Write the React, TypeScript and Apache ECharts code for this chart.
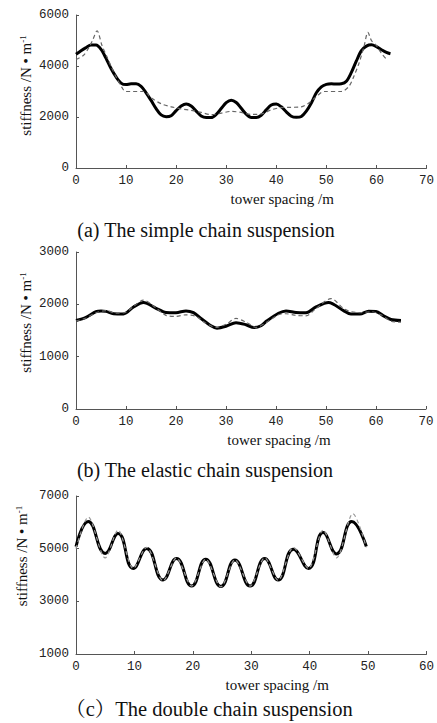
import React, { useEffect, useRef } from "react";
import * as echarts from "echarts";

// (a) simple chain suspension
const aSolidX = [0, 1, 2, 3, 4, 5, 6, 7, 8, 9, 10, 11, 12, 13, 14, 15, 16, 17, 18, 19, 20, 21, 22, 23, 24, 25, 26, 27, 28, 29, 30, 31, 32, 33, 34, 35, 36, 37, 38, 39, 40, 41, 42, 43, 44, 45, 46, 47, 48, 49, 50, 51, 52, 53, 54, 55, 56, 57, 58, 59, 60, 61, 62, 62.8];
const aSolidY = [4460, 4600, 4720, 4820, 4820, 4650, 4300, 3900, 3570, 3330, 3270, 3300, 3300, 3200, 2950, 2650, 2330, 2080, 2010, 2050, 2250, 2430, 2510, 2430, 2230, 2040, 1980, 1980, 2100, 2330, 2560, 2660, 2570, 2340, 2110, 1980, 1980, 2070, 2280, 2470, 2510, 2400, 2200, 2030, 1990, 2020, 2230, 2550, 2950, 3180, 3280, 3300, 3290, 3300, 3400, 3750, 4200, 4600, 4780, 4830, 4760, 4640, 4530, 4480];
const aDashX = [0, 1.5, 2.5, 3.3, 4.2, 5.2, 6.2, 7.2, 8.2, 9.2, 9.9, 13.6, 15, 17, 19, 21, 23, 25, 27, 29, 31, 33, 35, 37, 39, 41, 43, 45, 46.5, 48, 49.5, 53, 54.5, 55.5, 56.5, 57.5, 58.3, 59, 60, 61, 62.2];
const aDashY = [4260, 4420, 4700, 5000, 5380, 4800, 4350, 3900, 3500, 3150, 3000, 3000, 2750, 2520, 2400, 2320, 2260, 2180, 2090, 2150, 2220, 2180, 2100, 2120, 2280, 2370, 2380, 2400, 2550, 2800, 3000, 3000, 3200, 3600, 4100, 4750, 5320, 5000, 4800, 4500, 4220];

// (b) elastic chain suspension
const bSolidX = [0, 2, 4, 5, 6, 7.5, 9.5, 11.5, 13.5, 16, 18, 20, 22, 23.5, 25, 27, 28.2, 30, 32, 34, 35.6, 37, 38.2, 40.5, 42, 44, 46, 48, 50.5, 53.5, 55, 56.8, 58.5, 60, 61.5, 63, 65];
const bSolidY = [1690, 1750, 1860, 1875, 1865, 1820, 1815, 1950, 2035, 1925, 1845, 1840, 1875, 1840, 1730, 1590, 1545, 1580, 1650, 1610, 1555, 1590, 1685, 1830, 1875, 1845, 1840, 1950, 2035, 1880, 1815, 1815, 1870, 1865, 1780, 1710, 1690];
const bDashX = [0, 2, 4, 6, 8, 10, 11.5, 13.5, 16, 18, 20, 22, 24, 26, 28, 30, 32, 34, 36, 38, 40.5, 42, 44, 46, 48, 51, 53.5, 55, 57, 59, 61, 63, 65];
const bDashY = [1680, 1740, 1840, 1880, 1830, 1850, 1960, 2080, 1930, 1790, 1770, 1800, 1770, 1640, 1560, 1620, 1730, 1660, 1560, 1650, 1800, 1820, 1790, 1780, 1920, 2110, 1920, 1860, 1840, 1860, 1800, 1680, 1660];

// (c) double chain suspension
const cSolidX = [0, 2.1, 5.0, 7.2, 9.8, 12.1, 14.9, 17.2, 19.8, 22.2, 24.8, 27.2, 29.8, 32.3, 34.6, 37.2, 39.8, 42.3, 44.6, 47.2, 49.7];
const cSolidY = [5080, 6030, 4820, 5580, 4250, 5010, 3810, 4630, 3580, 4600, 3560, 4570, 3580, 4630, 3810, 4980, 4250, 5610, 4800, 6030, 5080];
const cDashX = [0, 2.1, 5.0, 7.2, 9.8, 12.1, 14.9, 17.2, 19.8, 22.2, 24.8, 27.2, 29.8, 32.3, 34.6, 37.2, 39.8, 42.3, 44.6, 47.4, 49.7];
const cDashY = [5000, 6200, 4650, 5700, 4250, 5050, 3780, 4650, 3580, 4600, 3550, 4580, 3580, 4650, 3800, 5050, 4250, 5700, 4650, 6330, 5050];

// axes
const xMaxes = [70, 70, 60];
const yMins = [0, 0, 1000];
const yMaxes = [6000, 3000, 7000];
const yIntervals = [2000, 1000, 2000];
const xInterval = 10;

const captions = [
  "(a) The simple chain suspension",
  "(b) The elastic chain suspension",
  "\uFF08c\uFF09The double chain suspension",
];
const xName = "tower spacing /m";
const yName = "stiffness /N \u2022 m{sup|-1}";

const zip = (xs: number[], ys: number[]) => xs.map((x, i) => [x, ys[i]]);

export default function App() {
  const ref = useRef<HTMLDivElement>(null);
  useEffect(() => {
    if (!ref.current) return;
    const chart = echarts.init(ref.current, undefined, { renderer: "svg" });
    const grids = [
      { left: 76, right: 10, top: 15, height: 153 },
      { left: 76, right: 11, top: 252, height: 157 },
      { left: 76, right: 10, top: 496, height: 158 },
    ];
    const xNamePad = [62, 56, 52];
    const yNamePad = [12, 16, 38];
    const yNameGap = [42, 42, 46];
    const labelFont = "'Liberation Mono', 'DejaVu Sans Mono', monospace";
    const serif = "'Liberation Serif', 'Noto Serif CJK SC', 'Noto Sans CJK SC', serif";
    const axisLine = { lineStyle: { color: "#555", width: 1 } };
    const axisTick = { inside: true, length: 3, lineStyle: { color: "#555" } };
    const fmt = (v: number) => String(v);
    const xAxis = grids.map((_, i) => ({
      type: "value",
      gridIndex: i,
      min: 0,
      max: xMaxes[i],
      interval: xInterval,
      name: xName,
      nameLocation: "middle",
      nameGap: 23,
      nameMoveOverlap: false,
      nameTextStyle: { fontFamily: serif, fontSize: 15, color: "#111", padding: [0, 0, 0, xNamePad[i]] },
      axisLine,
      axisTick,
      splitLine: { show: false },
      axisLabel: { fontFamily: labelFont, fontSize: 12.5, color: "#222", margin: 6, formatter: fmt },
    }));
    const yAxis = grids.map((_, i) => ({
      type: "value",
      gridIndex: i,
      min: yMins[i],
      max: yMaxes[i],
      interval: yIntervals[i],
      name: yName,
      nameLocation: "middle",
      nameRotate: 90,
      nameGap: yNameGap[i],
      nameMoveOverlap: false,
      nameTextStyle: {
        fontFamily: serif,
        fontSize: 15,
        color: "#111",
        padding: [0, 0, 0, yNamePad[i]],
        rich: { sup: { fontFamily: serif, fontSize: 9, color: "#111", verticalAlign: "top", padding: [0, 0, 7, 0] } },
      },
      axisLine: { show: true, ...axisLine },
      axisTick: { show: true, ...axisTick },
      splitLine: { show: false },
      axisLabel: { fontFamily: labelFont, fontSize: 12.5, color: "#222", margin: 7, formatter: fmt },
    }));
    const solids = [zip(aSolidX, aSolidY), zip(bSolidX, bSolidY), zip(cSolidX, cSolidY)];
    const dashes = [zip(aDashX, aDashY), zip(bDashX, bDashY), zip(cDashX, cDashY)];
    const dashColors = ["#666", "#666", "#999"];
    const series: any[] = [];
    for (let i = 0; i < 3; i++) {
      series.push({
        type: "line",
        xAxisIndex: i,
        yAxisIndex: i,
        data: dashes[i],
        showSymbol: false,
        smooth: 0.3,
        lineStyle: { color: dashColors[i], width: 1.2, type: [4, 3] },
        z: 3,
      });
      series.push({
        type: "line",
        xAxisIndex: i,
        yAxisIndex: i,
        data: solids[i],
        showSymbol: false,
        smooth: i === 2 ? 0.5 : 0.3,
        lineStyle: { color: "#000", width: 3 },
        z: 2,
      });
    }
    const captionY = [230, 470, 709];
    const captionX = [206, 205, 209];
    const captionSize = [20, 20, 20.5];
    chart.setOption({
      animation: false,
      backgroundColor: "#fff",
      grid: grids,
      xAxis,
      yAxis,
      series,
      graphic: captions.map((t, i) => ({
        type: "text",
        x: captionX[i],
        y: captionY[i],
        style: { text: t, fontFamily: serif, fontSize: captionSize[i], fill: "#111", align: "center", verticalAlign: "middle" },
      })),
    });
    return () => chart.dispose();
  }, []);
  return <div ref={ref} style={{ position: "absolute", left: 0, top: 0, width: 437, height: 723 }} />;
}
